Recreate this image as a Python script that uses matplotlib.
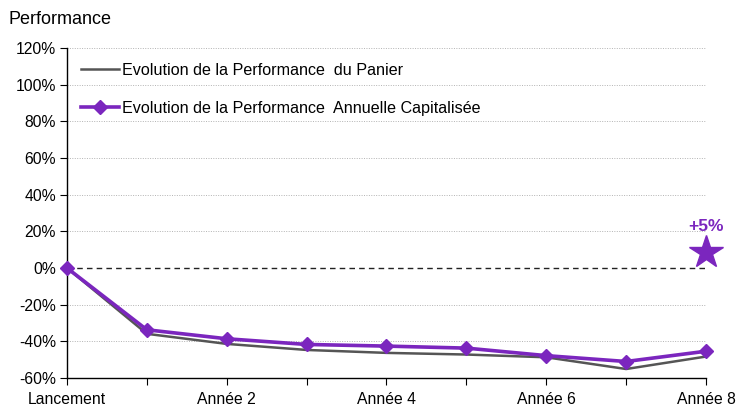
import matplotlib.pyplot as plt

plt.rcParams['font.family'] = ['Liberation Sans', 'DejaVu Sans']

# données (en %)
etapes = list(range(9))
labels_x = ["Lancement", "", "Année 2", "", "Année 4", "", "Année 6", "", "Année 8"]
perf_panier = [0, -35.9, -41.4, -44.7, -46.3, -47.2, -48.7, -55.1, -48.3]
perf_capitalisee = [0, -33.7, -38.6, -41.7, -42.6, -43.7, -47.8, -51.0, -45.4]
etoile_x = 8
etoile_y = 8.5
etoile_label = "+5%"
yticks = [-60, -40, -20, 0, 20, 40, 60, 80, 100, 120]

violet = "#7B26BE"
gris = "#555555"

fig = plt.figure(figsize=(7.4, 4.07), dpi=100)
ax = fig.add_axes([67 / 740, 1 - 378 / 407, (706 - 67) / 740, (378 - 48) / 407])

# grille pointillée
for y in yticks[1:]:
    if y == 0:
        continue
    ax.axhline(y, color="#b3b3b3", lw=0.7, ls=(0, (1, 1.5)), zorder=0)
ax.axhline(0, color="#222222", lw=1.0, ls=(0, (4, 3)), zorder=1)

ax.plot(etapes, perf_panier, color=gris, lw=1.8, label="Evolution de la Performance  du Panier",
        zorder=2, clip_on=False)
ax.plot(etapes, perf_capitalisee, color=violet, lw=2.6, marker="D", markersize=7,
        label="Evolution de la Performance  Annuelle Capitalisée", zorder=3, clip_on=False)

ax.plot([etoile_x], [etoile_y], marker="*", markersize=25, color=violet, ls="none",
        clip_on=False, zorder=4)
ax.text(etoile_x, etoile_y + 10, etoile_label, color=violet, fontsize=12.5, fontweight="bold",
        ha="center", va="bottom")

ax.set_xlim(0, 8)
ax.set_ylim(-60, 120)
ax.set_xticks(etapes)
ax.set_xticklabels(labels_x, fontsize=11.3)
ax.set_yticks(yticks)
ax.set_yticklabels([f"{v}%" for v in yticks], fontsize=11.3)
ax.tick_params(axis="both", direction="out", length=5, width=0.8, color="black", pad=3)
ax.tick_params(axis="x", pad=5)

for s in ["top", "right"]:
    ax.spines[s].set_visible(False)
for s in ["left", "bottom"]:
    ax.spines[s].set_color("black")
    ax.spines[s].set_linewidth(1.0)

leg = ax.legend(loc="upper left", bbox_to_anchor=(0.005, 0.99), frameon=False, fontsize=11.6,
                handlelength=2.3, handletextpad=0.2, labelspacing=1.45, borderaxespad=0.3)

fig.text(8 / 740, 1 - 20 / 407, "Performance", fontsize=13, ha="left", va="center")

fig.savefig("out.png", dpi=100)
